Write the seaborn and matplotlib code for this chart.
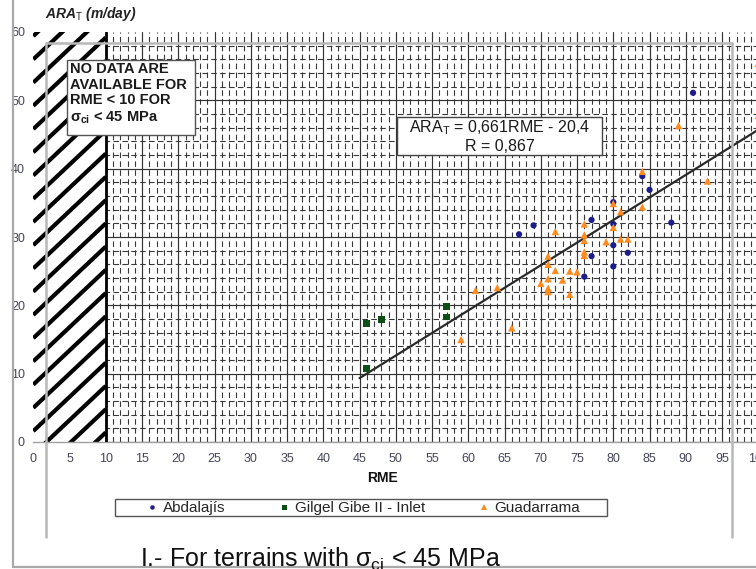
import numpy as np
import matplotlib
matplotlib.use("Agg")
import matplotlib.pyplot as plt
from matplotlib.lines import Line2D
from matplotlib.patches import Rectangle
import seaborn as sns

# Advance rate (ARA_T, m/day) against RME, one series per tunnel
abdalajis_rme = [67, 69, 76, 77, 77, 80, 80, 80, 80, 82, 84, 85, 88, 91]
abdalajis_ara = [30.4, 31.7, 24.2, 32.5, 27.2, 35.1, 31.9, 28.8, 25.7, 27.7, 38.9, 36.9, 32.1, 51.1]

gilgel_rme = [46, 46, 48, 57, 57]
gilgel_ara = [17.3, 10.7, 17.9, 19.8, 18.3]

guadarrama_rme = [59, 61, 64, 66, 70, 71, 71, 71, 71, 71, 72, 72, 73, 74, 74, 75,
                  76, 76, 76, 76, 76, 79, 80, 80, 81, 81, 82, 84, 84, 89, 93, 100, 100]
guadarrama_ara = [15.0, 22.2, 22.6, 16.7, 23.2, 27.2, 26.0, 23.9, 22.5, 22.0, 30.8, 25.1,
                  23.7, 25.0, 21.6, 24.9, 31.9, 30.3, 29.5, 27.8, 27.3, 29.3, 34.9, 31.4,
                  33.7, 29.7, 29.7, 39.6, 34.4, 46.3, 38.2, 55.4, 47.8]

series_names = ["Abdalajís", "Gilgel Gibe II - Inlet", "Guadarrama"]
series_colors = ["#1c1c8a", "#0d4f14", "#ff8a1e"]
series_markers = ["o", "s", "^"]

# Fitted line ARA_T = a * RME + b
fit_slope = 0.661
fit_intercept = -20.4
fit_r = 0.867
fit_rme_range = [45, 100]

no_data_rme = 10
x_ticks = list(range(0, 101, 5))
y_ticks = list(range(0, 61, 10))

sns.set_theme(style="white")
plt.rcParams["font.family"] = ["Liberation Sans", "DejaVu Sans"]
plt.rcParams["mathtext.fontset"] = "custom"
plt.rcParams["mathtext.rm"] = "Liberation Sans"
plt.rcParams["mathtext.it"] = "Liberation Sans:italic"
plt.rcParams["mathtext.bf"] = "Liberation Sans:bold"

W, H = 756, 569
fig = plt.figure(figsize=(W / 100, H / 100), dpi=100)
fig.patch.set_facecolor("white")


def fx(px):
    return px / W


def fy(py):
    return 1 - py / H


ax = fig.add_axes([fx(33.3), fy(442), fx(758.3) - fx(33.3), fy(32) - fy(442)])
ax.set_facecolor("none")
ax.set_xlim(0, 100)
ax.set_ylim(0, 60)

# grid: solid majors, dashed minors
ax.set_xticks(x_ticks)
ax.set_xticks(np.arange(0, 101, 1), minor=True)
ax.set_yticks(y_ticks)
ax.set_yticks(np.arange(0, 61, 2), minor=True)
ax.set_axisbelow(True)
ax.grid(which="major", color="#333333", lw=0.85)
ax.grid(which="minor", color="#383838", lw=0.8, linestyle=(0, (5, 3)))
ax.yaxis.get_gridlines()[-1].set_visible(False)

ax.tick_params(axis="x", which="major", length=3, pad=5, labelsize=9,
               color="#888888", labelcolor="#45465a")
ax.tick_params(axis="y", which="major", length=3, pad=3, labelsize=9,
               color="#888888", labelcolor="#45465a")
ax.tick_params(which="minor", length=0)
ax.set_xticklabels([str(t) for t in x_ticks])
ax.set_yticklabels([str(t) for t in y_ticks])
for side in ["top", "right", "left"]:
    ax.spines[side].set_visible(False)
ax.spines["bottom"].set_color("#a0a0a0")
ax.spines["bottom"].set_linewidth(1)
ax.set_xlabel("")
ax.set_ylabel("")

# hatched strip where RME < 10
ax.axvspan(0, no_data_rme, color="white", zorder=1, lw=0)
clip_box = Rectangle((0, 0), no_data_rme, 60, transform=ax.transData)
for c in np.arange(-12, 62, 3.4):
    hl, = ax.plot([0, no_data_rme], [c, c + 1.0 * no_data_rme], color="black",
                  lw=3.0, solid_capstyle="butt", zorder=2)
    hl.set_clip_path(clip_box)
ax.axvline(no_data_rme, color="black", lw=2.0, zorder=3)

# regression line
fit_x = np.array(fit_rme_range, dtype=float)
fit_y = fit_slope * fit_x + fit_intercept
sns.lineplot(x=fit_x, y=fit_y, color="#2a2a2a", lw=1.6, ax=ax, zorder=4)

# data points
sizes = [20, 24, 28]
for xs, ys, name, col, mk, sz in zip(
        [abdalajis_rme, gilgel_rme, guadarrama_rme],
        [abdalajis_ara, gilgel_ara, guadarrama_ara],
        series_names, series_colors, series_markers, sizes):
    sns.scatterplot(x=xs, y=ys, marker=mk, color=col, s=sz, edgecolor="none",
                    ax=ax, zorder=5, legend=False, clip_on=False)

# faint page frames
frame_kw = dict(transform=fig.transFigure, color="#b8b8b8", lw=1.8, zorder=0.5)
fig.add_artist(Line2D([fx(46), fx(46)], [fy(43), fy(537)], **frame_kw))
fig.add_artist(Line2D([fx(732), fx(732)], [fy(43), fy(537)], **frame_kw))
fig.add_artist(Line2D([fx(46), fx(732)], [fy(43), fy(43)], **frame_kw))
outer_kw = dict(transform=fig.transFigure, color="#a8a8a8", lw=1.6, zorder=0.5)
fig.add_artist(Line2D([fx(13), fx(13)], [fy(0), fy(567)], **outer_kw))
fig.add_artist(Line2D([fx(13), fx(756)], [fy(567), fy(567)], **outer_kw))

# y axis title
fig.text(fx(45), fy(18), "ARA$_\\mathrm{T}$ (m/day)", fontsize=10, fontweight="bold",
         fontstyle="italic", color="#222222", ha="left", va="baseline")

# x axis title
fig.text(fx(383), fy(478), "RME", fontsize=10, fontweight="bold", color="#111111",
         ha="center", va="center")

# note box
fig.add_artist(Rectangle((fx(67), fy(135)), fx(195) - fx(67), fy(60) - fy(135),
                         transform=fig.transFigure, facecolor="white",
                         edgecolor="#555555", lw=1, zorder=2))
fig.text(fx(70), fy(62),
         "NO DATA ARE\nAVAILABLE FOR\nRME < %d FOR\n$\\mathbf{\\sigma_{ci}}$ < 45 MPa" % no_data_rme,
         fontsize=10.5, fontweight="bold", color="#1a1a1a", ha="left", va="top",
         linespacing=1.15, zorder=3)

# equation box
fig.add_artist(Rectangle((fx(397), fy(155)), fx(602) - fx(397), fy(117) - fy(155),
                         transform=fig.transFigure, facecolor="white",
                         edgecolor="#444444", lw=1, zorder=2))
slope_txt = f"{fit_slope:.3f}".replace(".", ",")
icpt_txt = f"{abs(fit_intercept):.1f}".replace(".", ",")
sign_txt = "-" if fit_intercept < 0 else "+"
r_txt = f"{fit_r:.3f}".replace(".", ",")
fig.text(fx(499.5), fy(136),
         f"ARA$_\\mathrm{{T}}$ = {slope_txt}RME {sign_txt} {icpt_txt}\nR = {r_txt}",
         fontsize=11.5, color="#1a1a1a", ha="center", va="center",
         multialignment="center", linespacing=1.15, zorder=3)

# legend
handles = [Line2D([], [], ls="none", marker=m, color=c, markersize=ms, markeredgewidth=0)
           for m, c, ms in zip(series_markers, series_colors, [3.2, 3.6, 4.2])]
fig.add_artist(Rectangle((fx(115), fy(516)), fx(607) - fx(115), fy(499) - fy(516),
                         transform=fig.transFigure, facecolor="white",
                         edgecolor="#555555", lw=1, zorder=1))
leg = fig.legend(handles, series_names, loc="center", bbox_to_anchor=(fx(363), fy(508)),
                 ncol=3, fontsize=11, frameon=False, handlelength=0.8,
                 handletextpad=0.3, columnspacing=3.45, borderpad=0.1)
leg.set_zorder(3)

# caption
fig.text(fx(140), fy(566.5), "I.- For terrains with $\\mathrm{\\sigma_{ci}}$ < 45 MPa",
         fontsize=18, color="#111111", ha="left", va="baseline")

fig.savefig("out.png", dpi=100, facecolor="white")
